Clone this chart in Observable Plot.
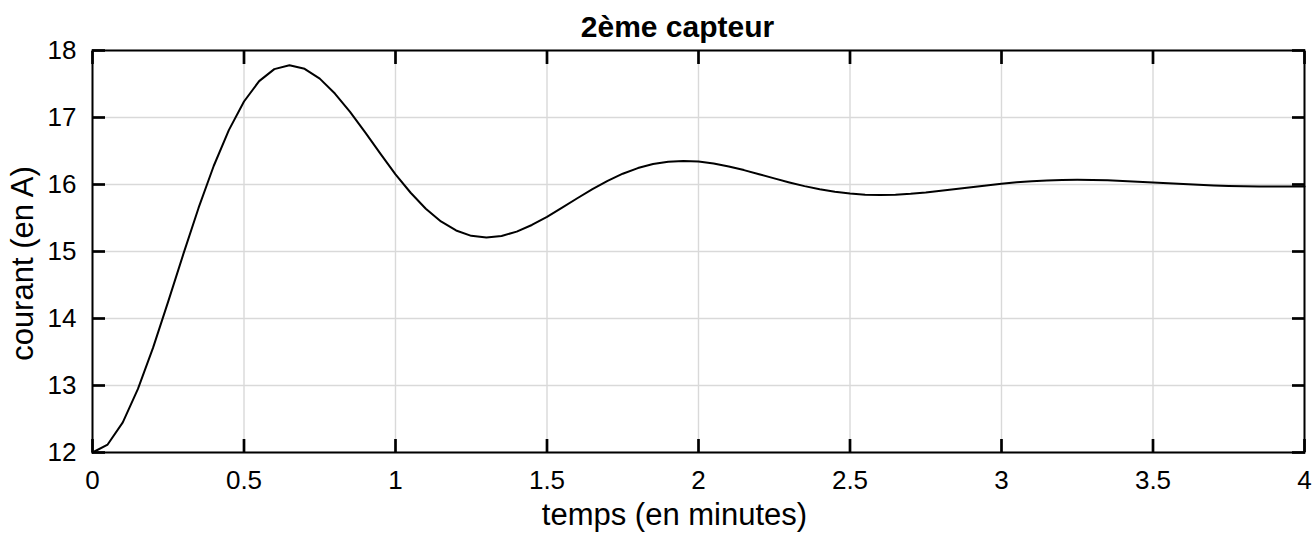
<!DOCTYPE html>
<html>
<head>
<meta charset="utf-8">
<script src="https://cdn.jsdelivr.net/npm/d3@7"></script>
<script src="https://cdn.jsdelivr.net/npm/@observablehq/plot@0.6"></script>
<style>
  html, body { margin: 0; padding: 0; background: #ffffff; }
  #chart { width: 1312px; height: 534px; }
</style>
</head>
<body>
<div id="chart"></div>
<script>
const titleText = "2ème capteur";
const xLabelText = "temps (en minutes)";
const yLabelText = "courant (en A)";

const xTicks = [0, 0.5, 1, 1.5, 2, 2.5, 3, 3.5, 4];
const yTicks = [12, 13, 14, 15, 16, 17, 18];

const times = [
  0.00, 0.05, 0.10, 0.15, 0.20, 0.25, 0.30, 0.35, 0.40, 0.45,
  0.50, 0.55, 0.60, 0.65, 0.70, 0.75, 0.80, 0.85, 0.90, 0.95,
  1.00, 1.05, 1.10, 1.15, 1.20, 1.25, 1.30, 1.35, 1.40, 1.45,
  1.50, 1.55, 1.60, 1.65, 1.70, 1.75, 1.80, 1.85, 1.90, 1.95,
  2.00, 2.05, 2.10, 2.15, 2.20, 2.25, 2.30, 2.35, 2.40, 2.45,
  2.50, 2.55, 2.60, 2.65, 2.70, 2.75, 2.80, 2.85, 2.90, 2.95,
  3.00, 3.05, 3.10, 3.15, 3.20, 3.25, 3.30, 3.35, 3.40, 3.45,
  3.50, 3.55, 3.60, 3.65, 3.70, 3.75, 3.80, 3.85, 3.90, 3.95,
  4.00
];

const current = [
  12.000, 12.119, 12.450, 12.949, 13.565, 14.255, 14.964, 15.650, 16.276, 16.812,
  17.239, 17.543, 17.722, 17.780, 17.727, 17.580, 17.357, 17.084, 16.777, 16.461,
  16.150, 15.877, 15.639, 15.449, 15.314, 15.234, 15.208, 15.232, 15.297, 15.396,
  15.518, 15.654, 15.795, 15.930, 16.054, 16.161, 16.245, 16.305, 16.341, 16.352,
  16.342, 16.313, 16.269, 16.215, 16.154, 16.091, 16.031, 15.976, 15.928, 15.891,
  15.864, 15.848, 15.843, 15.848, 15.861, 15.880, 15.905, 15.932, 15.959, 15.986,
  16.011, 16.032, 16.049, 16.060, 16.068, 16.070, 16.068, 16.062, 16.053, 16.042,
  16.030, 16.018, 16.006, 15.995, 15.986, 15.978, 15.973, 15.970, 15.969, 15.970,
  15.972
];

const data = times.map((t, i) => ({t, i: current[i]}));

const W = 1312, H = 534;
const mL = 92, mR = 8, mT = 50, mB = 82;
const tickLen = 13;
const font = "'Liberation Sans', Arial, Helvetica, sans-serif";

const xDom = [xTicks[0], xTicks[xTicks.length - 1]];
const yDom = [yTicks[0], yTicks[yTicks.length - 1]];
const noLabel = () => "";

const chart = Plot.plot({
  width: W,
  height: H,
  marginLeft: mL,
  marginRight: mR,
  marginTop: mT,
  marginBottom: mB,
  style: {fontFamily: font, fontSize: "26px", background: "#ffffff", color: "#000000"},
  x: {domain: xDom},
  y: {domain: yDom},
  marks: [
    Plot.gridX(xTicks, {stroke: "#d9d9d9", strokeOpacity: 1, strokeWidth: 1.4}),
    Plot.gridY(yTicks, {stroke: "#d9d9d9", strokeOpacity: 1, strokeWidth: 1.4}),
    Plot.line(data, {x: "t", y: "i", stroke: "#000000", strokeWidth: 2}),
    Plot.frame({stroke: "#000000", strokeWidth: 2}),
    // inward ticks on all four sides (negative tick size points into the frame)
    Plot.axisX(xTicks, {anchor: "bottom", tickSize: -tickLen, tickPadding: 18 + tickLen, strokeWidth: 2.7, stroke: "#000000", label: null, fontSize: 26, tickFormat: d => String(d)}),
    Plot.axisX(xTicks, {anchor: "top", tickSize: -tickLen, strokeWidth: 2.7, stroke: "#000000", label: null, tickFormat: noLabel}),
    Plot.axisY(yTicks, {anchor: "left", tickSize: -tickLen, tickPadding: 16 + tickLen, strokeWidth: 2.7, stroke: "#000000", label: null, fontSize: 26, tickFormat: d => String(d)}),
    Plot.axisY(yTicks, {anchor: "right", tickSize: -tickLen, strokeWidth: 2.7, stroke: "#000000", label: null, tickFormat: noLabel}),
    Plot.text([titleText], {text: d => d, frameAnchor: "top", textAnchor: "middle", lineAnchor: "middle", dx: -21, dy: -23, fontSize: 30, fontWeight: "bold", fill: "#000"}),
    Plot.text([xLabelText], {text: d => d, frameAnchor: "bottom", textAnchor: "middle", lineAnchor: "middle", dx: -24, dy: 63, fontSize: 31, fill: "#000"}),
    Plot.text([yLabelText], {text: d => d, frameAnchor: "left", textAnchor: "middle", lineAnchor: "middle", rotate: -90, dx: -69, dy: 12, fontSize: 31, fill: "#000"})
  ]
});

document.getElementById("chart").appendChild(chart);
</script>
</body>
</html>
